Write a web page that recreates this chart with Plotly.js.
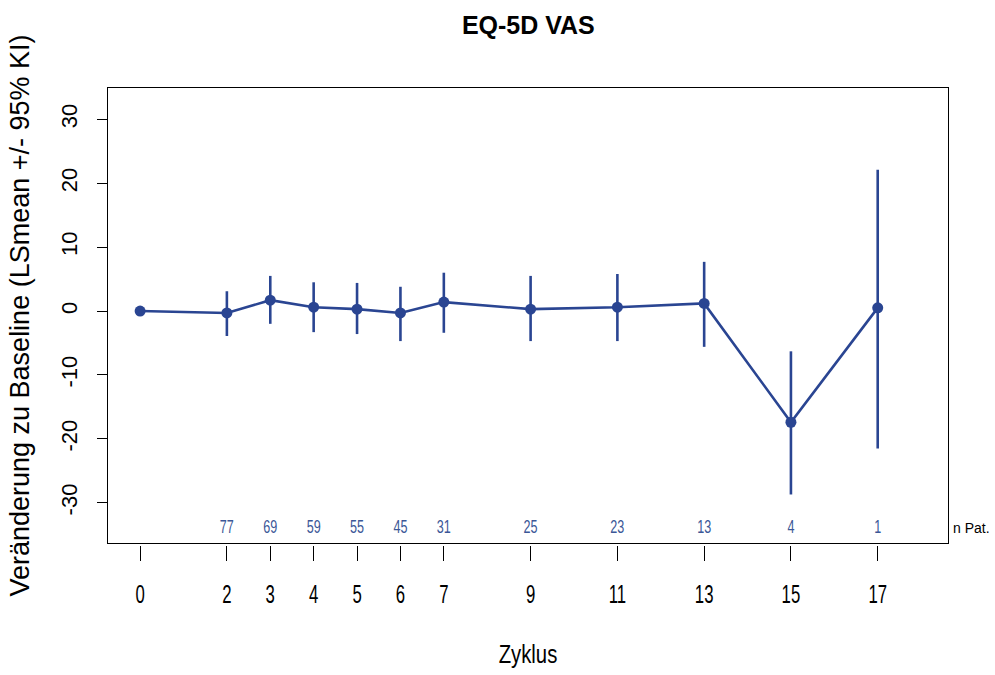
<!DOCTYPE html>
<html>
<head>
<meta charset="utf-8">
<script src="https://cdn.plot.ly/plotly-3.0.1.min.js"></script>
<style>html,body{margin:0;padding:0;background:#fff;}#chart{width:995px;height:675px;}</style>
</head>
<body>
<div id="chart"></div>
<script>
var zyklus = [0, 2, 3, 4, 5, 6, 7, 9, 11, 13, 15, 17];
var lsmean = [0, -0.3, 1.7, 0.6, 0.3, -0.3, 1.4, 0.3, 0.6, 1.2, -17.4, 0.5];
var upperCI = [0, 3.1, 5.5, 4.5, 4.4, 3.8, 6.0, 5.5, 5.8, 7.7, -6.3, 22.1];
var lowerCI = [0, -3.9, -2.0, -3.3, -3.6, -4.7, -3.4, -4.7, -4.7, -5.6, -28.7, -21.5];
var nPat = ["", "77", "69", "59", "55", "45", "31", "25", "23", "13", "4", "1"];
var yTicks = [-30, -20, -10, 0, 10, 20, 30];

var col = '#2a4592';
var errPlus = lsmean.map(function(v, i){ return upperCI[i] - v; });
var errMinus = lsmean.map(function(v, i){ return v - lowerCI[i]; });
var nY = zyklus.map(function(){ return -34.0; });
var sans = '"Liberation Sans", Arial, sans-serif';

var xr = [-0.74, 18.62];
var traces = [
  {
    x: zyklus, y: lsmean, type: 'scatter', mode: 'lines+markers',
    line: {color: col, width: 2.6},
    marker: {color: col, size: 11},
    error_y: {type: 'data', symmetric: false, array: errPlus, arrayminus: errMinus,
              color: col, thickness: 2.6, width: 0},
    showlegend: false, hoverinfo: 'x+y'
  },
  {
    x: zyklus, y: nY, type: 'scatter', mode: 'text', text: nPat,
    textfont: {family: sans, size: 18, color: '#3b5797'},
    showlegend: false, cliponaxis: false, hoverinfo: 'skip'
  },
  {
    x: zyklus, y: lsmean, xaxis: 'x2', type: 'scatter', mode: 'markers',
    marker: {opacity: 0}, showlegend: false, hoverinfo: 'skip'
  }
];

var layout = {
  width: 995, height: 675,
  margin: {l: 108, r: 47, t: 88, b: 100},
  paper_bgcolor: '#fff', plot_bgcolor: '#fff',
  title: {text: '<b>EQ-5D VAS</b>', x: 0.531, xanchor: 'center', y: 0.963, yanchor: 'middle',
          font: {family: sans, size: 25, color: '#000'}},
  xaxis: {
    range: xr, showgrid: false, zeroline: false, showline: true, mirror: true,
    linecolor: '#000', linewidth: 1.3, ticks: '', showticklabels: false, fixedrange: true
  },
  xaxis2: {
    range: xr, overlaying: 'x', anchor: 'free', position: 0.0615,
    tickmode: 'array', tickvals: zyklus, ticktext: zyklus.map(String),
    ticks: 'outside', ticklen: 15, tickwidth: 1, tickcolor: '#000',
    ticklabelstandoff: 12,
    showline: false, showgrid: false, zeroline: false,
    tickfont: {family: sans, size: 25, color: '#000'},
    title: {text: 'Zyklus', font: {family: sans, size: 26, color: '#000'}, standoff: 37}
  },
  yaxis: {
    domain: [0.0656, 1], range: [-36.3, 34.9],
    tickmode: 'array', tickvals: yTicks, ticktext: yTicks.map(String),
    ticks: 'outside', ticklen: 10, tickwidth: 1, tickcolor: '#000',
    ticklabelstandoff: 11,
    tickangle: -90, showgrid: false, zeroline: false,
    showline: true, mirror: true, linecolor: '#000', linewidth: 1.3,
    tickfont: {family: sans, size: 22, color: '#000'},
    title: {text: 'Veränderung zu Baseline (LSmean +/- 95% KI)',
            font: {family: sans, size: 27, color: '#000'}, standoff: 19}
  },
  annotations: [
    {text: 'n Pat.', xref: 'paper', yref: 'y', x: 1.003, y: -34.0, xanchor: 'left', yanchor: 'middle',
     showarrow: false, font: {family: sans, size: 14, color: '#000'}}
  ]
};

function condense(sel, factor) {
  document.querySelectorAll(sel).forEach(function(t){
    var w = t.getComputedTextLength();
    if (w > 0) {
      t.setAttribute('textLength', (w * factor).toFixed(2));
      t.setAttribute('lengthAdjust', 'spacingAndGlyphs');
    }
  });
}

Plotly.newPlot('chart', traces, layout, {displayModeBar: false, staticPlot: true}).then(function(){
  condense('#chart .x2tick text', 0.67);
  condense('#chart .g-x2title text', 0.78);
  condense('#chart .textpoint text', 0.7);
});
</script>
</body>
</html>
